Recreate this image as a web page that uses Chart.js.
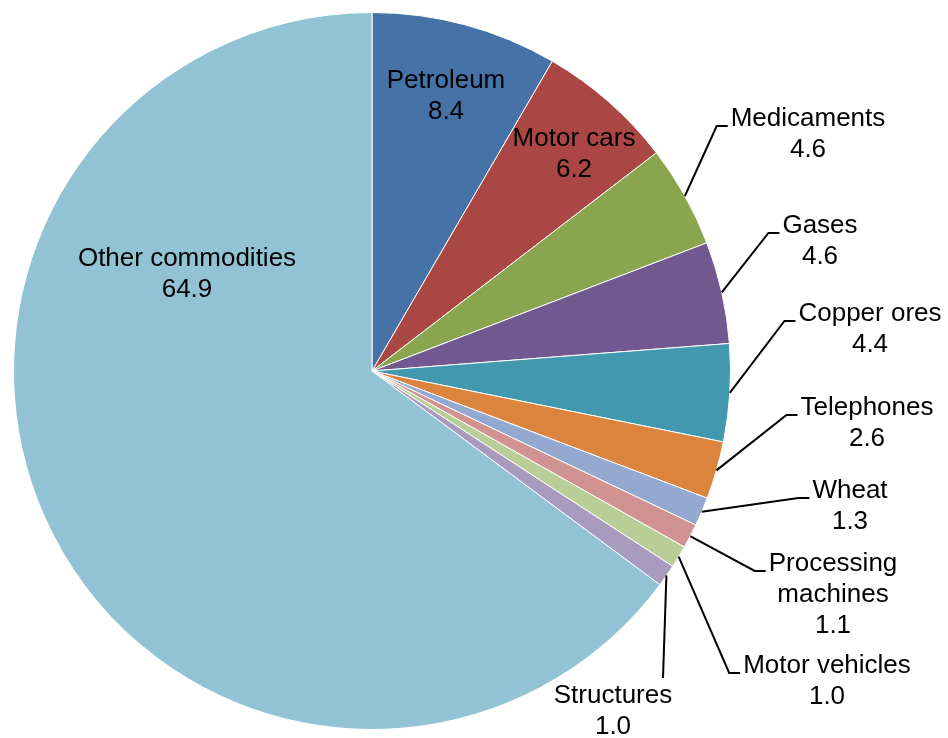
<!DOCTYPE html>
<html>
<head>
<meta charset="utf-8">
<script src="https://cdn.jsdelivr.net/npm/chart.js@4.4.1/dist/chart.umd.min.js"></script>
<style>
    html, body { margin: 0; padding: 0; background: #fff; }
    #wrap { width: 948px; height: 738px; position: relative; }
</style>
</head>
<body>
<div id="wrap"><canvas id="pieChart"></canvas></div>
<script>
    // data
    const categories = ['Petroleum', 'Motor cars', 'Medicaments', 'Gases', 'Copper ores', 'Telephones',
        'Wheat', 'Processing machines', 'Motor vehicles', 'Structures', 'Other commodities'];
    const shares = [8.4, 6.2, 4.6, 4.6, 4.4, 2.6, 1.3, 1.1, 1.0, 1.0, 64.9];
    const colors = ['#4572A7', '#AA4643', '#89A54E', '#71588F', '#4198AF', '#DB843D',
        '#93A9CF', '#D19392', '#B9CD96', '#A99BBD', '#92C3D4'];

    // label layout: offset of the first text line from the pie centre, and how the leader attaches
    const labelLayout = [
        { dx: 74, dy: -290, kind: 'inside' },
        { dx: 202, dy: -232, kind: 'inside' },
        { dx: 436, dy: -252, kind: 'stub' },
        { dx: 448, dy: -145, kind: 'stub' },
        { dx: 498, dy: -57, kind: 'stub' },
        { dx: 495, dy: 37, kind: 'stub' },
        { dx: 478, dy: 120, kind: 'stub' },
        { dx: 461, dy: 193, kind: 'stub', wrap: true },
        { dx: 455, dy: 295, kind: 'stub' },
        { dx: 241, dy: 325, kind: 'top' },
        { dx: -185, dy: -112, kind: 'inside' }
    ];

    const FONT = '26px "Liberation Sans", Arial, sans-serif';
    const LINE_H = 31;

    const labelPlugin = {
        id: 'sliceLabels',
        afterDatasetsDraw(chart) {
            const ctx = chart.ctx;
            const arcs = chart.getDatasetMeta(0).data;
            ctx.save();
            ctx.font = FONT;
            ctx.textAlign = 'center';
            ctx.textBaseline = 'middle';
            arcs.forEach((arc, i) => {
                const lay = labelLayout[i];
                const cx = arc.x, cy = arc.y;
                const name = categories[i];
                const lines = lay.wrap ? name.split(' ') : [name];
                lines.push(shares[i].toFixed(1));
                const tx = cx + lay.dx, ty = cy + lay.dy;

                if (lay.kind !== 'inside') {
                    const mid = (arc.startAngle + arc.endAngle) / 2;
                    const sx = cx + arc.outerRadius * Math.cos(mid);
                    const sy = cy + arc.outerRadius * Math.sin(mid);
                    ctx.strokeStyle = '#000';
                    ctx.lineWidth = 2;
                    ctx.beginPath();
                    ctx.moveTo(sx, sy);
                    if (lay.kind === 'stub') {
                        const w = ctx.measureText(lines[0]).width;
                        const ex = tx - w / 2 - 3;
                        const ey = ty + 7;
                        ctx.lineTo(ex - 11, ey);
                        ctx.lineTo(ex, ey);
                    } else {
                        ctx.lineTo(tx + 50, ty - 18);
                    }
                    ctx.stroke();
                }

                ctx.fillStyle = '#000';
                lines.forEach((ln, k) => ctx.fillText(ln, tx, ty + k * LINE_H));
            });
            ctx.restore();
        }
    };

    new Chart(document.getElementById('pieChart'), {
        type: 'pie',
        data: {
            labels: categories,
            datasets: [{
                data: shares,
                backgroundColor: colors,
                borderColor: '#ffffff',
                borderWidth: 1
            }]
        },
        options: {
            responsive: true,
            maintainAspectRatio: false,
            animation: false,
            layout: { padding: { left: 13, top: 12, right: 217, bottom: 8 } },
            plugins: {
                legend: { display: false },
                tooltip: { enabled: false }
            }
        },
        plugins: [labelPlugin]
    });
</script>
</body>
</html>
